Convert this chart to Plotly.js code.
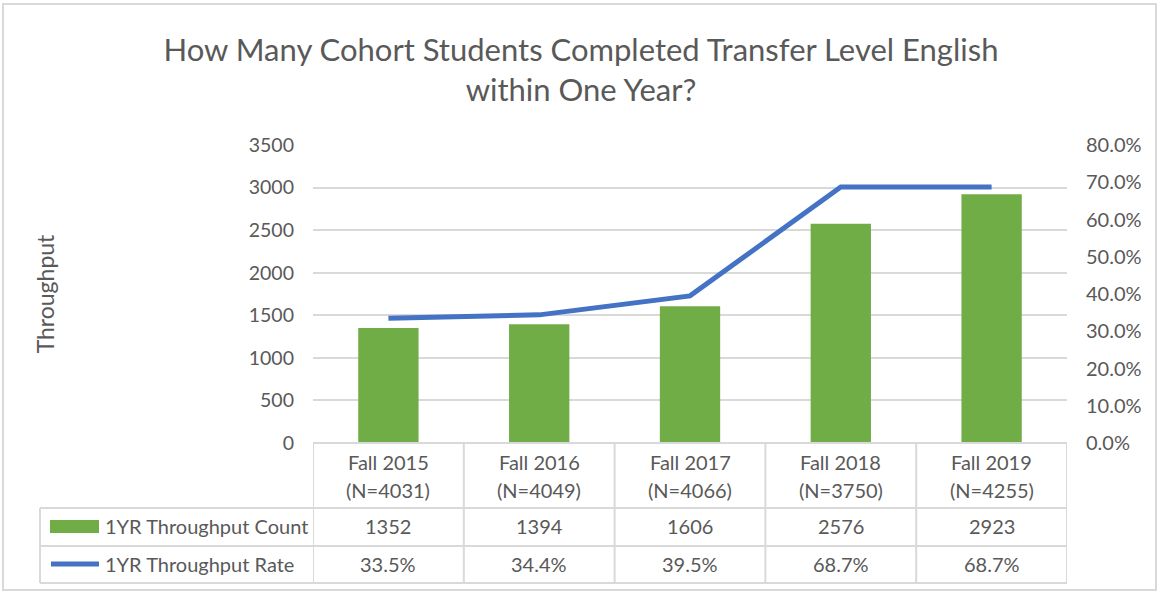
<!DOCTYPE html>
<html>
<head>
<meta charset="utf-8">
<script src="https://cdn.plot.ly/plotly-3.0.1.min.js"></script>
<style>html,body{margin:0;padding:0;background:#fff;}#chart{width:1160px;height:593px;}</style>
</head>
<body>
<div id="chart"></div>
<script>
// ---- data ----
const terms = ['Fall 2015', 'Fall 2016', 'Fall 2017', 'Fall 2018', 'Fall 2019'];
const cohortN = [4031, 4049, 4066, 3750, 4255];
const counts = [1352, 1394, 1606, 2576, 2923];
const rates = [0.335, 0.344, 0.395, 0.687, 0.687];
const seriesNames = ['1YR Throughput Count', '1YR Throughput Rate'];
const titleText = 'How Many Cohort Students Completed Transfer Level English<br>within One Year?';
const yTitle = 'Throughput';

// ---- layout helpers (pixels -> paper) ----
const W = 1160, H = 593;
const PL = 313, PR = 1067, PT = 145, PB = 443;
const px = v => (v - PL) / (PR - PL);
const py = v => (PB - v) / (PB - PT);

const FONT = 'Lato, "Open Sans", sans-serif';
const TXT = '#595959';
const GRID = '#d9d9d9';
const GREEN = '#70AD47';
const BLUE = '#4472C4';

const traces = [
  {
    type: 'bar', name: seriesNames[0], x: terms, y: counts,
    marker: {color: GREEN}, yaxis: 'y', hoverinfo: 'x+y'
  },
  {
    type: 'scatter', mode: 'lines', name: seriesNames[1], x: terms, y: rates,
    line: {color: BLUE, width: 5}, yaxis: 'y2'
  }
];

const shapes = [];
const annotations = [];
const lineStyle = {color: GRID, width: 2};

// outer chart border
shapes.push({type: 'rect', xref: 'paper', yref: 'paper', x0: px(3), x1: px(1156), y0: py(590), y1: py(4), line: {color: GRID, width: 2}, layer: 'below'});

// table grid: vertical lines at category boundaries
for (let i = 0; i <= terms.length; i++) {
  shapes.push({type: 'line', xref: 'x', yref: 'paper', x0: i - 0.5, x1: i - 0.5, y0: py(443), y1: py(583), line: lineStyle});
}
// legend column left border
shapes.push({type: 'line', xref: 'paper', yref: 'paper', x0: px(40), x1: px(40), y0: py(508), y1: py(583), line: lineStyle});
// horizontal lines
shapes.push({type: 'line', xref: 'paper', yref: 'paper', x0: 0, x1: 1, y0: py(443), y1: py(443), line: lineStyle});
[508, 546, 583].forEach(yy => {
  shapes.push({type: 'line', xref: 'paper', yref: 'paper', x0: px(40), x1: 1, y0: py(yy), y1: py(yy), line: lineStyle});
});
// legend keys
shapes.push({type: 'rect', xref: 'paper', yref: 'paper', x0: px(50), x1: px(99), y0: py(533), y1: py(520), fillcolor: GREEN, line: {width: 0}});
shapes.push({type: 'line', xref: 'paper', yref: 'paper', x0: px(51), x1: px(99), y0: py(564), y1: py(564), line: {color: BLUE, width: 5}});

const tf = {family: FONT, size: 20, color: TXT};
const rowY = {t1: 462, t2: 490, count: 526, rate: 564};
terms.forEach((t, i) => {
  annotations.push({xref: 'x', yref: 'paper', x: t, y: py(rowY.t1), text: t, showarrow: false, font: tf, xanchor: 'center', yanchor: 'middle'});
  annotations.push({xref: 'x', yref: 'paper', x: t, y: py(rowY.t2), text: '(N=' + cohortN[i] + ')', showarrow: false, font: tf, xanchor: 'center', yanchor: 'middle'});
  annotations.push({xref: 'x', yref: 'paper', x: t, y: py(rowY.count), text: String(counts[i]), showarrow: false, font: tf, xanchor: 'center', yanchor: 'middle'});
  annotations.push({xref: 'x', yref: 'paper', x: t, y: py(rowY.rate), text: (rates[i] * 100).toFixed(1) + '%', showarrow: false, font: tf, xanchor: 'center', yanchor: 'middle'});
});
annotations.push({xref: 'paper', yref: 'paper', x: px(103), y: py(rowY.count), text: seriesNames[0], showarrow: false, font: tf, xanchor: 'left', yanchor: 'middle'});
annotations.push({xref: 'paper', yref: 'paper', x: px(103), y: py(rowY.rate), text: seriesNames[1], showarrow: false, font: tf, xanchor: 'left', yanchor: 'middle'});

const layout = {
  width: W, height: H,
  margin: {l: PL, r: W - PR, t: PT, b: H - PB, pad: 0},
  paper_bgcolor: '#fff', plot_bgcolor: '#fff',
  showlegend: false,
  bargap: 0.6,
  font: {family: FONT, color: TXT},
  title: {
    text: titleText,
    font: {family: FONT, size: 31, color: TXT},
    x: 581 / W, xanchor: 'center', xref: 'container',
    y: 1 - 61 / H, yanchor: 'middle', yref: 'container'
  },
  xaxis: {
    type: 'category', range: [-0.5, terms.length - 0.5],
    showticklabels: false, showgrid: false, zeroline: false, showline: false, ticks: '', fixedrange: true
  },
  yaxis: {
    range: [0, 3500], dtick: 500, tick0: 0,
    showgrid: true, gridcolor: GRID, gridwidth: 2, zeroline: false, showline: false,
    tickfont: {family: FONT, size: 19.5, color: TXT}, ticklabelstandoff: 18,
    title: {text: yTitle, font: {family: FONT, size: 23, color: TXT}, standoff: 187},
    automargin: false
  },
  yaxis2: {
    overlaying: 'y', side: 'right', range: [0, 0.8], dtick: 0.1, tick0: 0, tickformat: '.1%',
    showgrid: false, zeroline: false, showline: false,
    tickfont: {family: FONT, size: 20, color: TXT}, ticklabelstandoff: 18,
    automargin: false
  },
  shapes: shapes,
  annotations: annotations
};

Plotly.newPlot('chart', traces, layout, {displayModeBar: false, staticPlot: true});
</script>
</body>
</html>
